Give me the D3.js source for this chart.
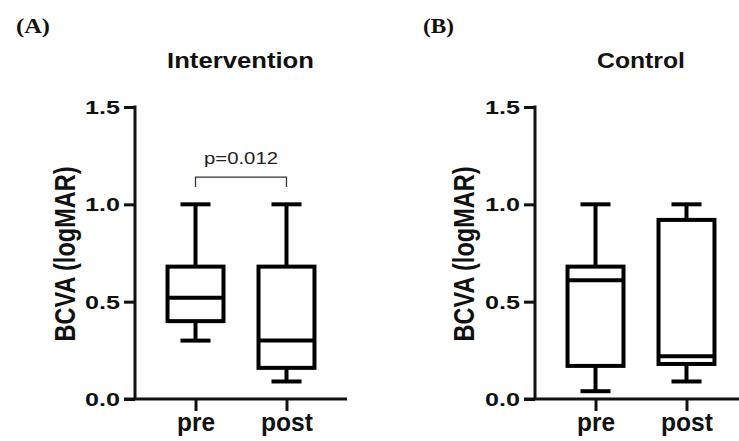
<!DOCTYPE html>
<html>
<head>
<meta charset="utf-8">
<script src="https://cdn.jsdelivr.net/npm/d3@7"></script>
<style>
  html, body { margin: 0; padding: 0; background: #fff; }
  svg { display: block; }
</style>
</head>
<body>
<svg id="chart" width="739" height="441"></svg>
<script>
// ---- Data ----
const groups = ["pre", "post"];
const yTicks = [0.0, 0.5, 1.0, 1.5];
const panelTitles = ["Intervention", "Control"];
const panelLetters = ["(A)", "(B)"];
const yLabel = "BCVA (logMAR)";
const pValueLabel = "p=0.012";

const interventionMin    = [0.30, 0.09];
const interventionQ1     = [0.40, 0.16];
const interventionMedian = [0.52, 0.30];
const interventionQ3     = [0.68, 0.68];
const interventionMax    = [1.00, 1.00];

const controlMin    = [0.04, 0.09];
const controlQ1     = [0.17, 0.18];
const controlMedian = [0.61, 0.22];
const controlQ3     = [0.68, 0.92];
const controlMax    = [1.00, 1.00];

const bracketValue = 1.14;

// ---- Build ----
const svg = d3.select("#chart");
const SANS = "'Liberation Sans', Arial, Helvetica, sans-serif";
const SERIF = "'Liberation Serif', 'Times New Roman', serif";

function makeStats(mn, q1, md, q3, mx) {
  return groups.map((g, i) => ({ g, min: mn[i], q1: q1[i], median: md[i], q3: q3[i], max: mx[i] }));
}

const panels = [
  { title: panelTitles[0], letter: panelLetters[0], stats: makeStats(interventionMin, interventionQ1, interventionMedian, interventionQ3, interventionMax),
    axisX: 135, titleX: 240.5, letterX: 16, letterW: 34, labelX: 75, titleW: 147, bracket: true },
  { title: panelTitles[1], letter: panelLetters[1], stats: makeStats(controlMin, controlQ1, controlMedian, controlQ3, controlMax),
    axisX: 535, titleX: 641, letterX: 423, letterW: 31, labelX: 474, titleW: 88, bracket: false }
];

const yTop = 107, yBottom = 399;
const y = d3.scaleLinear().domain([0, 1.5]).range([yBottom, yTop]);

panels.forEach(p => {
  const g = svg.append("g");
  const x = d3.scalePoint().domain(groups).range([p.axisX, p.axisX + 212]).padding(0.665);
  const step = x.step();
  const boxW = step * 0.615;
  const capW = step * 0.33;

  // panel letter
  g.append("text")
    .attr("x", p.letterX).attr("y", 33)
    .attr("font-family", SERIF).attr("font-size", 22).attr("font-weight", "bold")
    .attr("textLength", p.letterW).attr("lengthAdjust", "spacingAndGlyphs")
    .attr("fill", "#111")
    .text(p.letter);

  // title
  g.append("text")
    .attr("x", p.titleX).attr("y", 68)
    .attr("text-anchor", "middle")
    .attr("font-family", SANS).attr("font-size", 22.5).attr("font-weight", "bold")
    .attr("textLength", p.titleW).attr("lengthAdjust", "spacingAndGlyphs")
    .attr("fill", "#111")
    .text(p.title);

  // y label
  g.append("text")
    .attr("transform", `translate(${p.labelX},254) scale(1.3,1) rotate(-90)`)
    .attr("text-anchor", "middle")
    .attr("font-family", SANS).attr("font-size", 23).attr("font-weight", "bold")
    .attr("textLength", 175).attr("lengthAdjust", "spacingAndGlyphs")
    .attr("fill", "#111")
    .text(yLabel);

  // y axis
  const yAxis = g.append("g")
    .attr("transform", `translate(${p.axisX},0)`)
    .call(d3.axisLeft(y).tickValues(yTicks).tickSize(11).tickPadding(4).tickFormat(d3.format(".1f")));
  yAxis.select(".domain").attr("stroke", "#111").attr("stroke-width", 3)
    .attr("d", `M0,${yTop - 1.5}V${yBottom}`);
  yAxis.selectAll(".tick line").attr("stroke", "#111").attr("stroke-width", 3);
  yAxis.selectAll(".tick text")
    .attr("font-family", SANS).attr("font-size", 18).attr("font-weight", "bold")
    .attr("fill", "#111").attr("dy", "0.36em")
    .attr("textLength", 35).attr("lengthAdjust", "spacingAndGlyphs");

  // x axis
  const xAxis = g.append("g")
    .attr("transform", `translate(0,${yBottom})`)
    .call(d3.axisBottom(x).tickSize(12).tickPadding(4));
  xAxis.select(".domain").attr("stroke", "#111").attr("stroke-width", 3)
    .attr("d", `M${p.axisX - 11},0H${p.axisX + 212}`);
  xAxis.selectAll(".tick line").attr("stroke", "#111").attr("stroke-width", 3);
  xAxis.selectAll(".tick text")
    .attr("y", 32).attr("dy", 0)
    .attr("font-family", SANS).attr("font-size", 26).attr("font-weight", "bold")
    .attr("fill", "#111")
    .attr("textLength", d => d === "pre" ? 38 : 52)
    .attr("lengthAdjust", "spacingAndGlyphs");

  // boxes
  const bx = g.append("g").attr("fill", "none").attr("stroke", "#000").attr("stroke-width", 4);
  p.stats.forEach(s => {
    const cx = x(s.g);
    // whiskers
    bx.append("line").attr("x1", cx).attr("x2", cx).attr("y1", y(s.max)).attr("y2", y(s.q3));
    bx.append("line").attr("x1", cx).attr("x2", cx).attr("y1", y(s.q1)).attr("y2", y(s.min));
    bx.append("line").attr("x1", cx - capW / 2).attr("x2", cx + capW / 2).attr("y1", y(s.max)).attr("y2", y(s.max));
    bx.append("line").attr("x1", cx - capW / 2).attr("x2", cx + capW / 2).attr("y1", y(s.min)).attr("y2", y(s.min));
    // box
    bx.append("rect")
      .attr("x", cx - boxW / 2).attr("width", boxW)
      .attr("y", y(s.q3)).attr("height", y(s.q1) - y(s.q3))
      .attr("fill", "#fff");
    // median
    bx.append("line").attr("x1", cx - boxW / 2).attr("x2", cx + boxW / 2).attr("y1", y(s.median)).attr("y2", y(s.median));
  });

  // significance bracket
  if (p.bracket) {
    const x1 = x(groups[0]), x2 = x(groups[1]);
    const by = y(bracketValue);
    g.append("path")
      .attr("d", `M${x1},${by + 10}V${by}H${x2}V${by + 10}`)
      .attr("fill", "none").attr("stroke", "#333").attr("stroke-width", 1.3);
    g.append("text")
      .attr("x", (x1 + x2) / 2).attr("y", by - 13)
      .attr("text-anchor", "middle")
      .attr("font-family", SANS).attr("font-size", 17)
      .attr("textLength", 74).attr("lengthAdjust", "spacingAndGlyphs")
      .attr("fill", "#222")
      .text(pValueLabel);
  }
});
</script>
</body>
</html>
